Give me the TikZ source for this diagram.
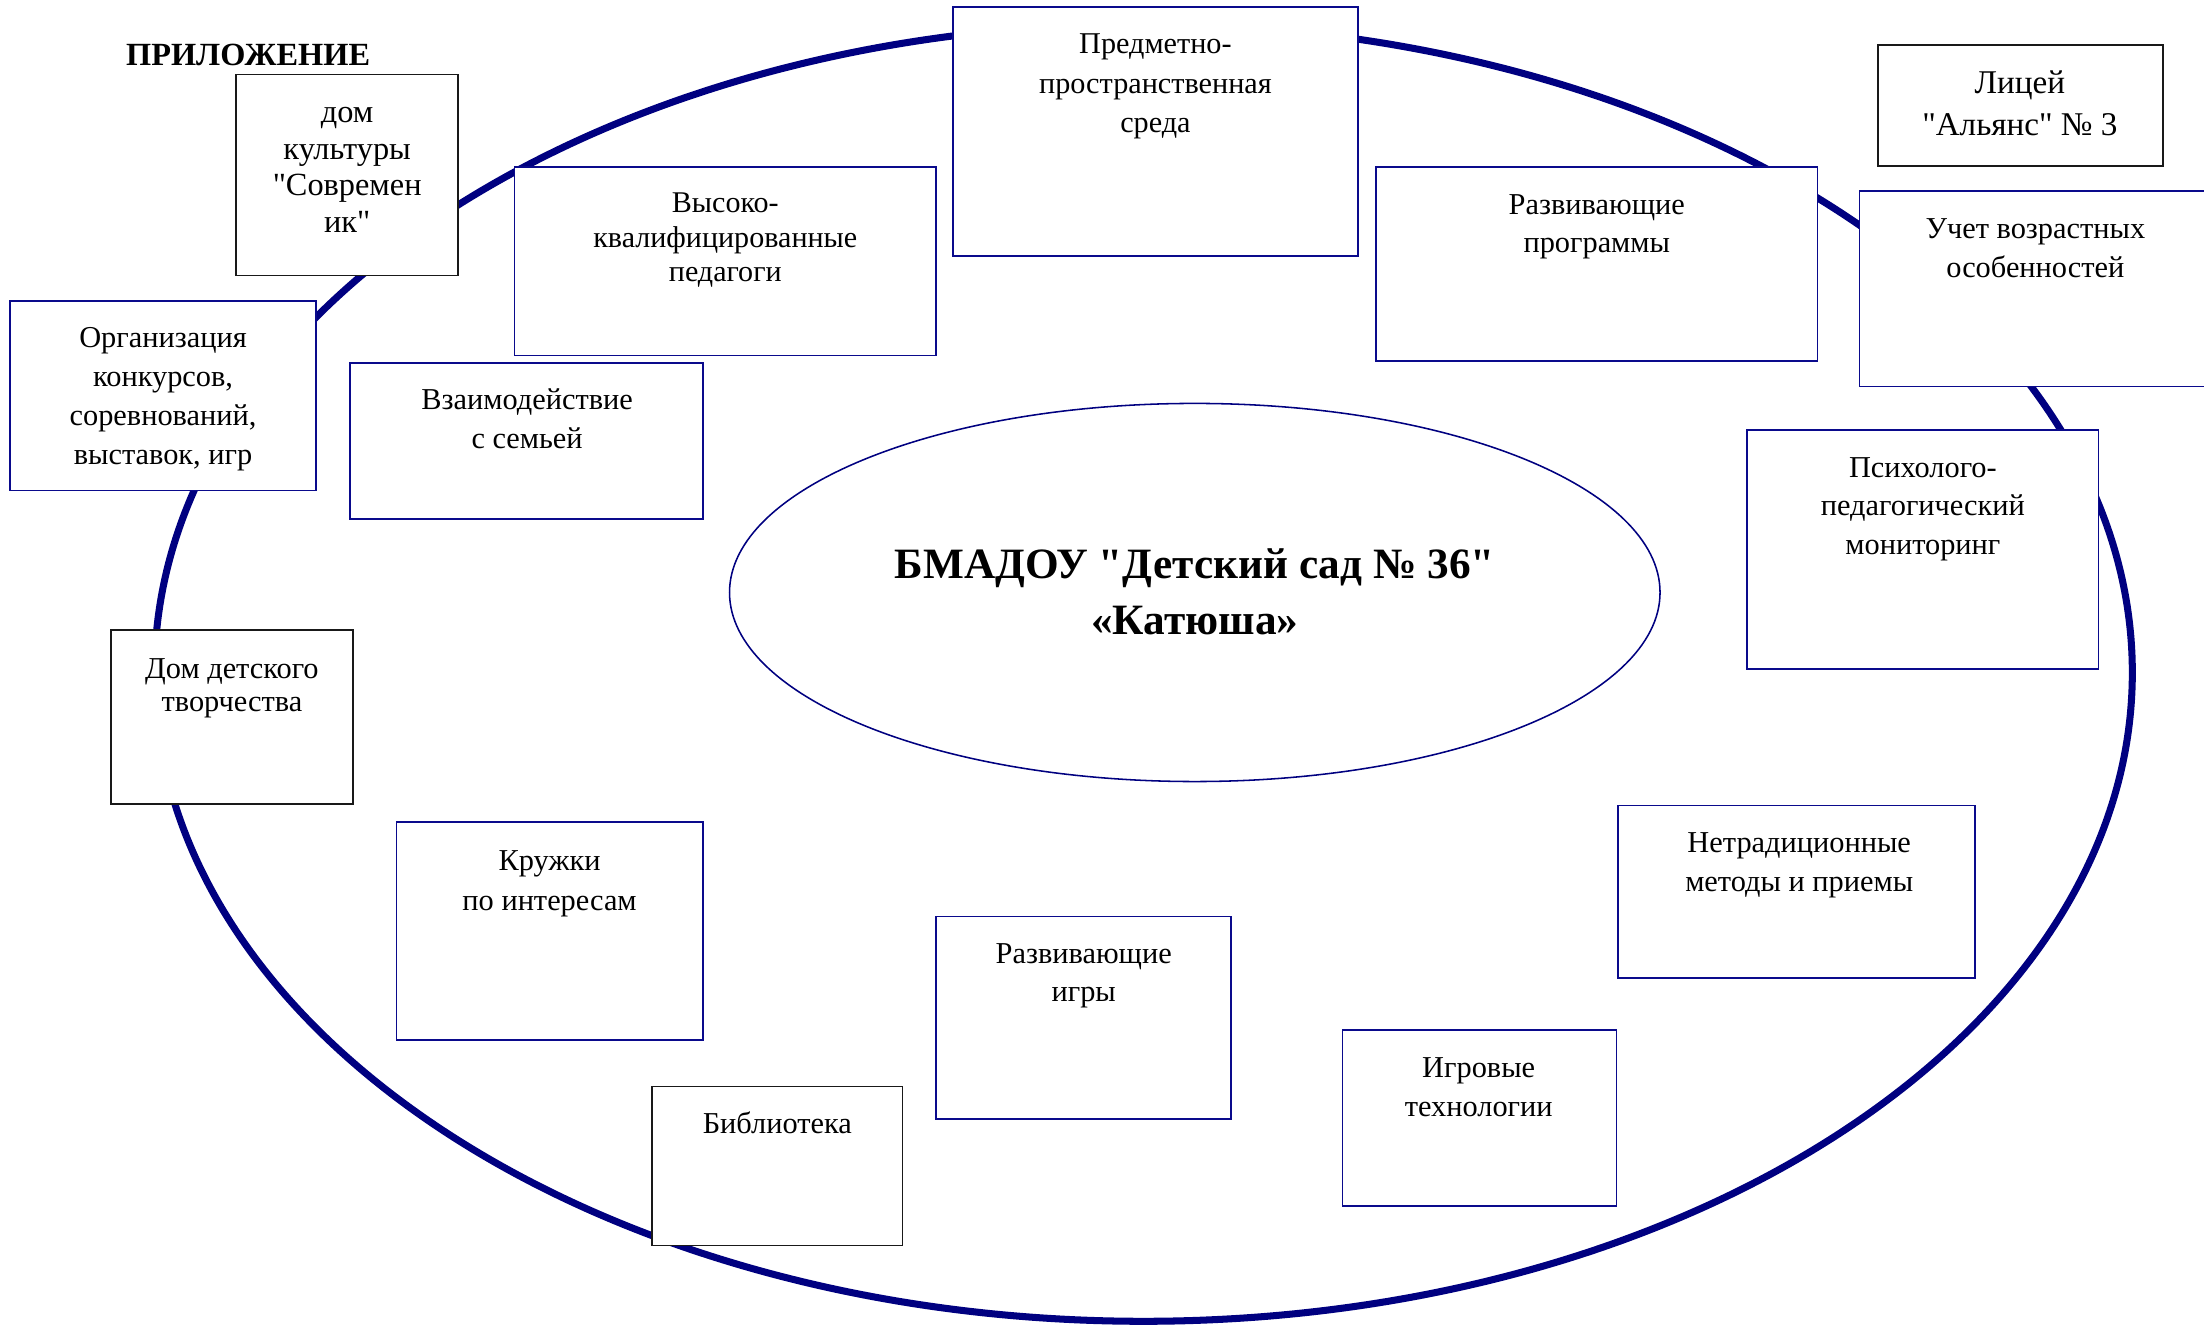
\documentclass[tikz,border=0pt]{standalone}
\usepackage{fontspec}
\setmainfont{Liberation Serif}[Ligatures=TeXOff]
\usetikzlibrary{shapes.geometric,fit}
\definecolor{navyline}{RGB}{0,0,128}
\definecolor{boxblue}{RGB}{10,10,140}
\tikzset{
  x=0.5pt,y=-0.5pt,
  bluebox/.style={draw=boxblue,line width=0.6pt,fill=white,inner sep=0pt},
  blackbox/.style={draw=black!90,line width=0.6pt,fill=white,inner sep=0pt},
  txt/.style={align=center,inner sep=0pt,anchor=north,text=black},
}
\newcommand\fs[2]{\fontsize{#1}{#2}\selectfont}
\begin{document}
\begin{tikzpicture}
\useasboundingbox (0,0) rectangle (1568,943);
\fill[white] (0,0) rectangle (1568,943);
% outer ring
\draw[navyline,line width=2.5pt] (813.5,478.5) ellipse [x radius=703.5,y radius=461.5];
% central ellipse
\node[ellipse,draw=navyline,line width=0.55pt,fill=white,inner sep=0pt,
      minimum width=331pt,minimum height=134.5pt] (core) at (850,421.5) {};
\node[txt,font={\fs{15.4}{20}\bfseries}] (title) at (850,411-28) {\strut БМАДОУ "Детский сад № 36"\\«Катюша»};
% heading
\node[inner sep=0pt,anchor=base,font={\fs{11.5}{14}\bfseries}] (app) at (176.5,46.5) {ПРИЛОЖЕНИЕ};
% boxes
\node[blackbox,fit={(168,53)(326,196)}] (b1) {};
\node[bluebox,fit={(7,214)(225,349)}] (b2) {};
\node[bluebox,fit={(366,119)(666,253)}] (b3) {};
\node[bluebox,fit={(249,258)(500,369)}] (b4) {};
\node[bluebox,fit={(678,5)(966,182)}] (b5) {};
\node[bluebox,fit={(979,119)(1293,257)}] (b6) {};
\node[blackbox,fit={(1336,32)(1539,118)}] (b7) {};
\node[bluebox,fit={(1323,136)(1573,275)}] (b8) {};
\node[bluebox,fit={(1243,306)(1493,476)}] (b9) {};
\node[blackbox,fit={(79,448)(251,572)}] (b10) {};
\node[bluebox,fit={(282,585)(500,740)}] (b11) {};
\node[blackbox,fit={(464,773)(642,886)}] (b12) {};
\node[bluebox,fit={(666,652)(876,796)}] (b13) {};
\node[bluebox,fit={(955,733)(1150,858)}] (b14) {};
\node[bluebox,fit={(1151,573)(1405,696)}] (b15) {};
% texts
\node[txt,font={\fs{11.5}{13}}] (t1) at (247,82+5-0.7*26) {\strut дом\\культуры\\"Современ\\ик"};
\node[txt,font={\fs{10.8}{13.85}}] (t2) at (116,242+5-0.7*27.7) {\strut Организация\\конкурсов,\\соревнований,\\выставок, игр};
\node[txt,font={\fs{10.7}{12.25}}] (t3) at (516,146+5-0.7*24.5) {\strut Высоко-\\квалифицированные\\педагоги};
\node[txt,font={\fs{10.8}{14}}] (t4) at (375,286+5-0.7*28) {\strut Взаимодействие\\с семьей};
\node[txt,font={\fs{10.75}{14}}] (t5) at (822,33+5-0.7*28) {\strut Предметно-\\пространственная\\среда};
\node[txt,font={\fs{10.8}{13.5}}] (t6) at (1136,147+5-0.7*27) {\strut Развивающие\\программы};
\node[txt,font={\fs{11.8}{15}}] (t7) at (1437,61+5-0.7*30) {\strut Лицей\\"Альянс" № 3};
\node[txt,font={\fs{10.8}{14}}] (t8) at (1448,164+5-0.7*28) {\strut Учет возрастных\\особенностей};
\node[txt,font={\fs{10.8}{13.75}}] (t9) at (1368,334+5-0.7*27.5) {\strut Психолого-\\педагогический\\мониторинг};
\node[txt,font={\fs{10.8}{12}}] (t10) at (165,477+5-0.7*24) {\strut Дом детского\\творчества};
\node[txt,font={\fs{10.8}{14}}] (t11) at (391,614+5-0.7*28) {\strut Кружки\\по интересам};
\node[txt,font={\fs{10.8}{13.5}}] (t12) at (553,801+5-0.7*27) {\strut Библиотека};
\node[txt,font={\fs{10.8}{13.5}}] (t13) at (771,680+5-0.7*27) {\strut Развивающие\\игры};
\node[txt,font={\fs{10.8}{14}}] (t14) at (1052,761+5-0.7*28) {\strut Игровые\\технологии};
\node[txt,font={\fs{10.8}{14}}] (t15) at (1280,601+5-0.7*28) {\strut Нетрадиционные\\методы и приемы};
\end{tikzpicture}
\end{document}
